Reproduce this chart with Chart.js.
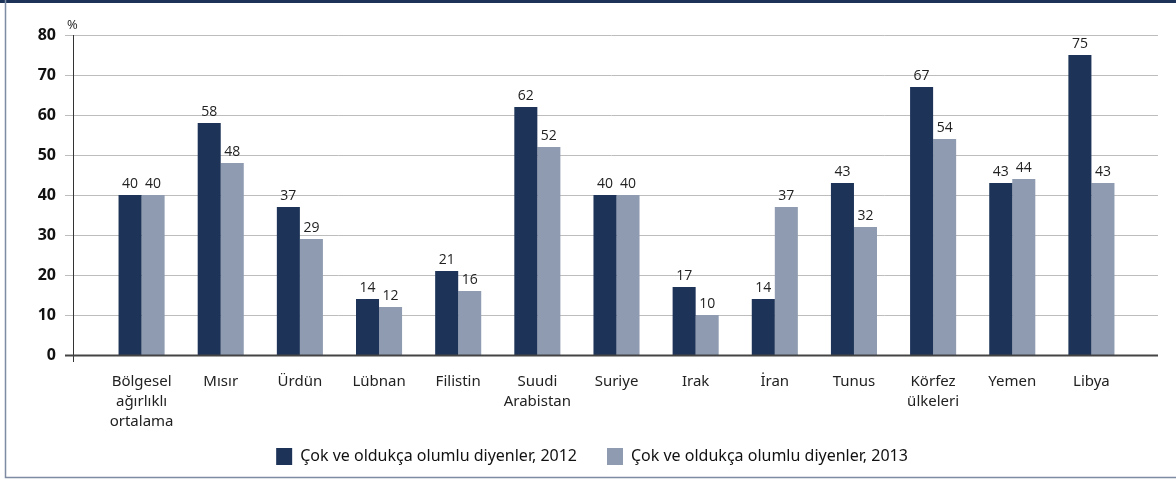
<!DOCTYPE html>
<html>
<head>
<meta charset="utf-8">
<script src="https://cdn.jsdelivr.net/npm/chart.js@4.4.1/dist/chart.umd.min.js"></script>
<style>
  html, body { margin: 0; padding: 0; background: #fff; }
  #wrap { width: 1176px; height: 479px; position: relative; }
</style>
</head>
<body>
<div id="wrap"><canvas id="chart" width="1176" height="479"></canvas></div>
<script>
// Veriler
const categories = [
  ["Bölgesel", "ağırlıklı", "ortalama"], "Mısır", "Ürdün", "Lübnan", "Filistin",
  ["Suudi", "Arabistan"], "Suriye", "Irak", "İran", "Tunus",
  ["Körfez", "ülkeleri"], "Yemen", "Libya"
];
const values2012 = [40, 58, 37, 14, 21, 62, 40, 17, 14, 43, 67, 43, 75];
const values2013 = [40, 48, 29, 12, 16, 52, 40, 10, 37, 32, 54, 44, 43];
const yTicks = [0, 10, 20, 30, 40, 50, 60, 70, 80];

const NAVY = "#1d3358";
const GREY = "#8e9bb0";

// cadre, grille, axes, étiquettes
const framePlugin = {
  id: "frame",
  afterLayout(chart) {
    // libellés sur 3 lignes : on agrandit la zone de l'axe x, la légende remonte un peu
    chart.scales.x.bottom += 14;
    chart.legend.top -= 4;
    chart.legend.bottom -= 4;
  },
  beforeDraw(chart) {
    const c = chart.ctx;
    c.save();
    c.fillStyle = NAVY;
    c.fillRect(0, 0, chart.width, 3);
    c.strokeStyle = "#7d8ba3";
    c.lineWidth = 1.5;
    c.beginPath();
    c.moveTo(5.5, 0); c.lineTo(5.5, 477.5); c.lineTo(chart.width, 477.5);
    c.stroke();
    c.restore();
  },
  beforeDatasetsDraw(chart) {
    const c = chart.ctx, y = chart.scales.y;
    c.save();
    c.strokeStyle = "#bdbdbd";
    c.lineWidth = 1;
    yTicks.forEach(v => {
      if (v === 0) return;
      const py = Math.round(y.getPixelForValue(v)) + 0.5;
      c.beginPath(); c.moveTo(65, py); c.lineTo(1158, py); c.stroke();
    });
    c.strokeStyle = "#333";
    c.beginPath();
    c.moveTo(73.5, y.getPixelForValue(80)); c.lineTo(73.5, y.getPixelForValue(0) + 7);
    c.stroke();
    c.fillStyle = "#111";
    c.font = "bold 16px 'Open Sans'";
    c.textAlign = "right"; c.textBaseline = "middle";
    yTicks.forEach(v => c.fillText(v, 56, y.getPixelForValue(v)));
    c.fillStyle = "#222";
    c.font = "13px 'Open Sans'";
    c.textAlign = "left"; c.textBaseline = "bottom";
    c.fillText("%", 67, y.getPixelForValue(80) - 3);
    c.restore();
  },
  afterDatasetsDraw(chart) {
    const c = chart.ctx, y = chart.scales.y;
    c.save();
    const py = Math.round(y.getPixelForValue(0)) + 0.5;
    c.strokeStyle = "#444";
    c.lineWidth = 2;
    c.beginPath(); c.moveTo(65, py); c.lineTo(1158, py); c.stroke();
    c.fillStyle = "#222";
    c.font = "14px 'Open Sans'";
    c.textAlign = "center"; c.textBaseline = "bottom";
    chart.data.datasets.forEach((ds, i) => {
      chart.getDatasetMeta(i).data.forEach((bar, j) => {
        c.fillText(ds.data[j], bar.x, bar.y - 4);
      });
    });
    c.restore();
  }
};

new Chart(document.getElementById("chart"), {
  type: "bar",
  data: {
    labels: categories,
    datasets: [
      { label: "Çok ve oldukça olumlu diyenler, 2012", data: values2012, backgroundColor: NAVY },
      { label: "Çok ve oldukça olumlu diyenler, 2013", data: values2013, backgroundColor: GREY }
    ]
  },
  options: {
    responsive: false,
    animation: false,
    layout: { padding: { left: 53, right: 45, top: 35, bottom: 0 } },
    categoryPercentage: 0.582,
    barPercentage: 1,
    plugins: {
      legend: {
        position: "bottom",
        labels: {
          boxWidth: 16, boxHeight: 17, padding: 30, color: "#111",
          font: { family: "'Noto Sans'", size: 16 }
        }
      },
      tooltip: { enabled: false }
    },
    scales: {
      x: {
        grid: { display: false, drawTicks: false },
        border: { display: false },
        ticks: { color: "#222", padding: 17, maxRotation: 0, autoSkip: false,
                 font: { family: "'Noto Sans'", size: 15, lineHeight: 1.33 } },
        afterFit(s) { s.height = 67; }
      },
      y: {
        min: 0, max: 80,
        afterBuildTicks(s) { s.ticks = yTicks.map(v => ({ value: v })); },
        grid: { display: false, drawTicks: false },
        border: { display: false },
        ticks: { display: false },
        afterFit(s) { s.width = 49; }
      }
    }
  },
  plugins: [framePlugin]
});
</script>
</body>
</html>
